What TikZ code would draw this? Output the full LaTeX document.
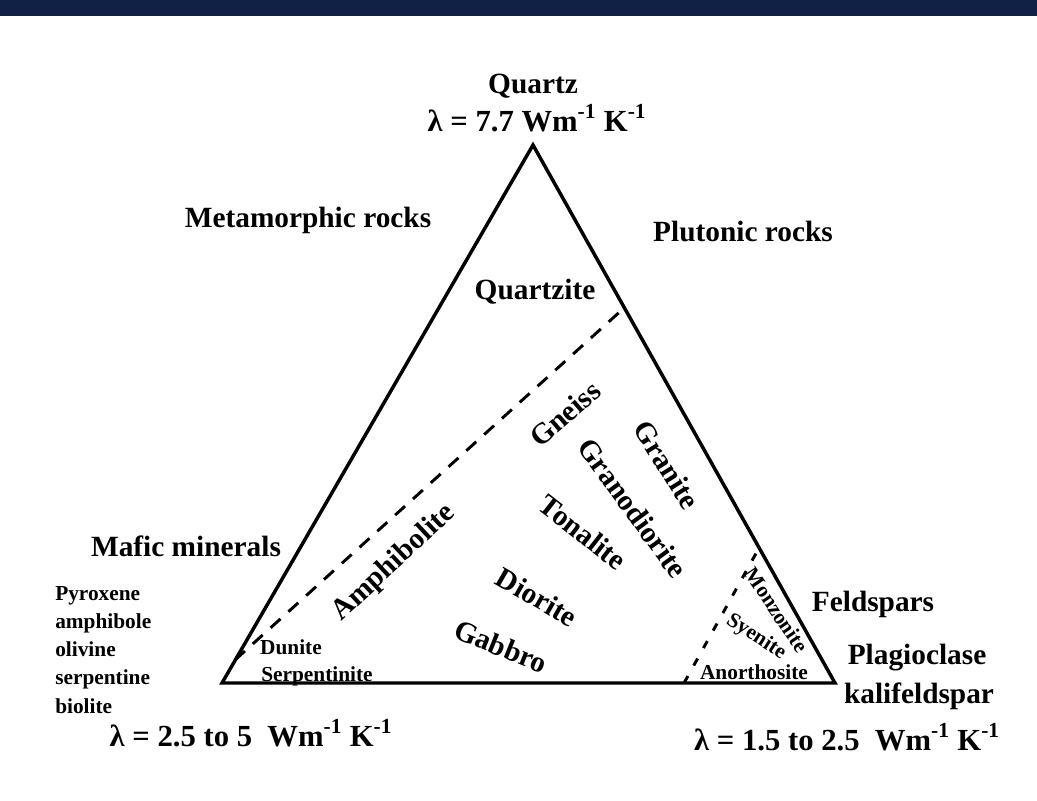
\documentclass[tikz,border=0pt]{standalone}
\usepackage{fontspec}
\setmainfont{Liberation Serif}
\definecolor{navy}{HTML}{112146}
\begin{document}
\begin{tikzpicture}[x=0.75pt,y=-0.75pt,
  big/.style={font=\fontsize{22}{26}\selectfont\bfseries, inner sep=0pt},
  lbl/.style={big, anchor=base},
  lam/.style={font=\fontsize{23}{27}\selectfont\bfseries, inner sep=0pt, anchor=base},
  small/.style={font=\fontsize{16}{19}\selectfont\bfseries, inner sep=0pt},
  lst/.style={font=\fontsize{16}{19}\selectfont\bfseries, inner sep=0pt, anchor=base west},
  edge/.style={line width=2.6pt, line join=miter, line cap=round},
  divider/.style={line width=2.2pt, dash pattern=on 10pt off 8pt},
  divider2/.style={line width=2.2pt, dash pattern=on 6pt off 9pt}]
\useasboundingbox (0,0) rectangle (1037,800);
\fill[white] (0,0) rectangle (1037,800);
\fill[navy] (0,0) rectangle (1037,16);

% triangle corners
\coordinate (Qz) at (533,145);
\coordinate (Mf) at (222,683);
\coordinate (Fs) at (835,683);
% divider end points
\coordinate (d1a) at (235,660);
\coordinate (d1b) at (624,308);
\coordinate (d2a) at (684,683);
\coordinate (d2b) at (759,548);

\draw[divider] (d1a) -- (d1b);
\draw[divider2] (d2a) -- (d2b);
\draw[edge] (Qz) -- (Mf) -- (Fs) -- cycle;

% corner labels
\node[lbl] (quartz) at (533,93) {Quartz};
\node[lam] (lamq) at (537,131) {λ = 7.7 Wm\textsuperscript{-1} K\textsuperscript{-1}};
\node[lbl] (meta) at (308,227) {Metamorphic rocks};
\node[lbl] (pluto) at (743,241) {Plutonic rocks};
\node[lbl] (quartzite) at (535,299) {Quartzite};
\node[lbl] (mafic) at (186,556) {Mafic minerals};
\node[lbl] (feld) at (873,611) {Feldspars};
\node[lbl] (plag) at (917,664) {Plagioclase};
\node[lbl] (kali) at (919,703) {kalifeldspar};
\node[lam] (lamf) at (847,750) {λ = 1.5 to 2.5\ \ Wm\textsuperscript{-1} K\textsuperscript{-1}};
\node[lam] (lamm) at (251,746) {λ = 2.5 to 5\ \ Wm\textsuperscript{-1} K\textsuperscript{-1}};

% mafic mineral list
\node[lst] (l1) at (55,600) {Pyroxene};
\node[lst] (l2) at (55,628) {amphibole};
\node[lst] (l3) at (55,656) {olivine};
\node[lst] (l4) at (55,684) {serpentine};
\node[lst] (l5) at (55,713) {biolite};

% rock names inside the triangle
\node[big, rotate=43] (amph) at (394,563) {Amphibolite};
\node[big, rotate=41] (gneiss) at (565,414) {Gneiss};
\node[big, rotate=-58] (granite) at (667,465) {Granite};
\node[big, rotate=-54] (grano) at (633,508) {Granodiorite};
\node[big, rotate=-38] (tona) at (583,532) {Tonalite};
\node[big, rotate=-30] (dio) at (537,597) {Diorite};
\node[big, rotate=-22] (gab) at (501,646) {Gabbro};
\node[small, rotate=-56] (monz) at (777,610) {Monzonite};
\node[small, rotate=-33] (sye) at (756,637) {Syenite};
\node[small, anchor=base] (anor) at (754,679) {Anorthosite};
\node[small, anchor=base] (dun) at (291,654) {Dunite};
\node[small, anchor=base] (serp) at (317,681) {Serpentinite};
\end{tikzpicture}
\end{document}
